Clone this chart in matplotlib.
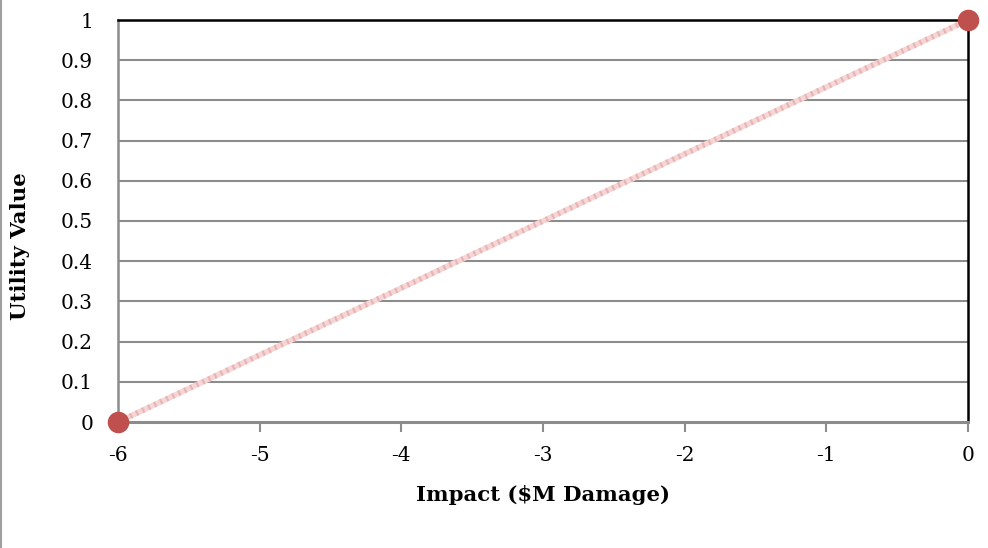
import matplotlib
matplotlib.use("Agg")
import matplotlib.pyplot as plt
from matplotlib.lines import Line2D

x_vals = [-6, 0]
y_vals = [0, 1]
x_ticks = [-6, -5, -4, -3, -2, -1, 0]
y_ticks = [0, 0.1, 0.2, 0.3, 0.4, 0.5, 0.6, 0.7, 0.8, 0.9, 1]
y_tick_labels = ["0", "0.1", "0.2", "0.3", "0.4", "0.5", "0.6", "0.7", "0.8", "0.9", "1"]
x_tick_labels = ["-6", "-5", "-4", "-3", "-2", "-1", "0"]

plt.rcParams['font.family'] = ['DejaVu Serif']

fig = plt.figure(figsize=(9.88, 5.48), dpi=100)
ax = fig.add_axes([118/988, 1-422/548, (968-118)/988, (422-20)/548])

for yv in y_ticks[1:-1]:
    ax.axhline(yv, color='#8c8c8c', lw=1.5, zorder=1)

ax.plot(x_vals, y_vals, color='#f5d6d6', lw=4, zorder=2, solid_capstyle='butt')
ax.plot(x_vals, y_vals, color='#eab4b4', lw=4, ls=(0, (0.4, 0.8)), zorder=2)
ax.plot(x_vals, y_vals, ls='none', marker='o', ms=14.5, color='#c0504d',
        markeredgecolor='#c0504d', zorder=5, clip_on=False)

ax.set_xlim(-6, 0)
ax.set_ylim(0, 1)
ax.set_xticks(x_ticks)
ax.set_xticklabels(x_tick_labels)
ax.set_yticks(y_ticks)
ax.set_yticklabels(y_tick_labels)

ax.spines['top'].set_color('black')
ax.spines['right'].set_color('black')
ax.spines['top'].set_linewidth(1.8)
ax.spines['right'].set_linewidth(1.8)
ax.spines['left'].set_color('#8c8c8c')
ax.spines['bottom'].set_color('#8c8c8c')
ax.spines['left'].set_linewidth(1.8)
ax.spines['bottom'].set_linewidth(2.2)

ax.tick_params(axis='x', direction='out', length=7, width=1.5, color='#8c8c8c',
               labelsize=14.5, pad=10)
ax.tick_params(axis='y', length=0, labelsize=14.5, pad=18)

ax.set_xlabel('Impact ($M Damage)', fontsize=15.3, fontweight='bold', va='center')
ax.set_ylabel('Utility Value', fontsize=15.3, fontweight='bold', va='center')
ax.xaxis.set_label_coords(0.5, (422-495)/402)
ax.yaxis.set_label_coords((20-118)/850, (422-246)/402)

fig.add_artist(Line2D([0.001, 0.001], [0, 1], transform=fig.transFigure,
                      color='#a0a0a0', lw=1.5))

fig.savefig('out.png', dpi=100)
